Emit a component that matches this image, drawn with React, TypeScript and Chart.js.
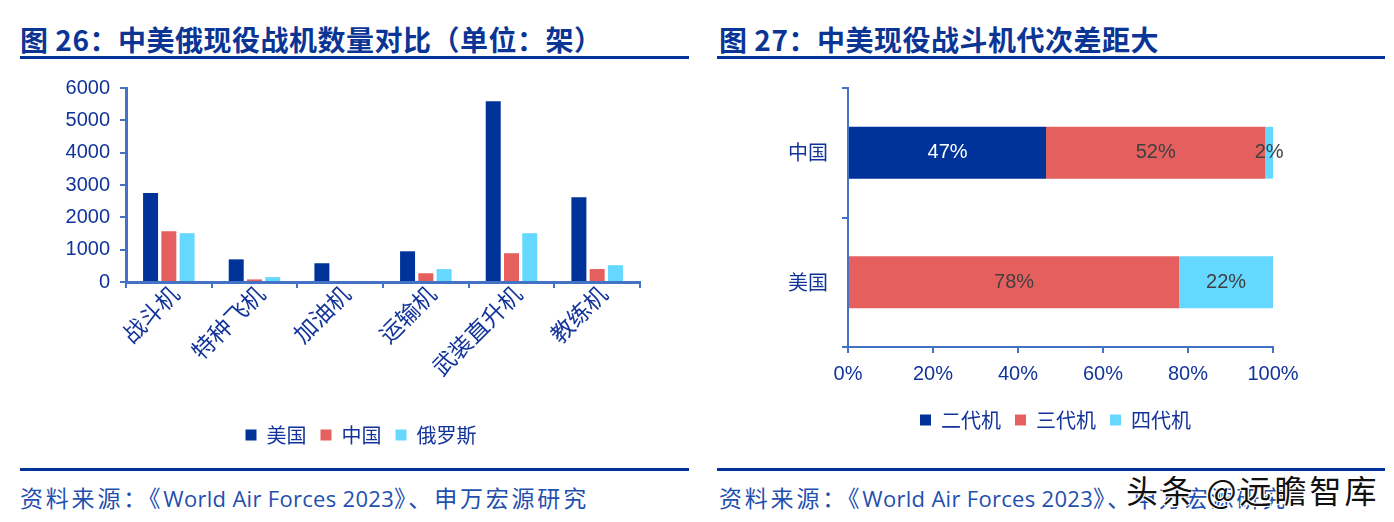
import React, { useEffect, useRef } from "react";
import { Chart, registerables } from "chart.js";

Chart.register(...registerables);

// ---------- Data ----------
const categories = ["战斗机", "特种飞机", "加油机", "运输机", "武装直升机", "教练机"];
const leftSeriesNames = ["美国", "中国", "俄罗斯"];
const usValues = [2750, 700, 580, 950, 5590, 2620];
const cnValues = [1570, 80, 0, 270, 890, 400];
const ruValues = [1510, 150, 0, 400, 1510, 520];
const leftTickStep = 1000;
const leftMax = 6000;

const countries = ["中国", "美国"];
const genSeriesNames = ["二代机", "三代机", "四代机"];
const gen2Values = [46.6, 0];
const gen3Values = [51.6, 77.9];
const gen4Values = [1.8, 22.1];
const pctTickStep = 20;

const titleLeft = "图 26：中美俄现役战机数量对比（单位：架）";
const titleRight = "图 27：中美现役战斗机代次差距大";
const sourcePre = "资料来源：《";
const sourceLatin = "World Air Forces 2023";
const sourcePost = "》、申万宏源研究";
const watermark = "头条 @远瞻智库";

// ---------- Styles ----------
const NAVY = "#003399";
const RED = "#E55F5F";
const CYAN = "#64D8FF";
const AXIS = "#4472C4";
const TEXT = "#12339A";
const LATIN = "'Liberation Sans', 'Noto Sans CJK SC', sans-serif";
const CJK = "'Noto Sans CJK SC', sans-serif";
const SRC_FONT = "'Open Sans', 'Noto Sans CJK SC', sans-serif";

const pctLabelPlugin = {
  id: "pctLabels",
  afterDatasetsDraw(chart: any) {
    const ctx = chart.ctx;
    ctx.save();
    ctx.font = `20px ${LATIN}`;
    ctx.textAlign = "center";
    ctx.textBaseline = "middle";
    chart.data.datasets.forEach((ds: any, di: number) => {
      const meta = chart.getDatasetMeta(di);
      meta.data.forEach((el: any, i: number) => {
        const v = ds.data[i];
        if (!v) return;
        const cx = (el.x + el.base) / 2;
        ctx.fillStyle = di === 0 ? "#FFFFFF" : "#404040";
        ctx.fillText(Math.round(v) + "%", cx, el.y);
      });
    });
    ctx.restore();
  },
};

const shiftLegend = (dx: number) => ({
  id: "shiftLegend",
  afterLayout(chart: any) {
    const l = chart.legend;
    if (l) {
      l.left += dx;
      l.right += dx;
    }
  },
});

const axisGrid = {
  display: true,
  drawOnChartArea: false,
  drawTicks: true,
  tickLength: 6,
  color: AXIS,
  lineWidth: 2,
};

const legendCfg = {
  position: "bottom" as const,
  labels: {
    boxWidth: 11,
    boxHeight: 11,
    color: TEXT,
    font: { size: 20, family: CJK },
    padding: 14,
  },
};

function LeftChart() {
  const ref = useRef<HTMLCanvasElement>(null);
  useEffect(() => {
    if (!ref.current) return;
    const colors = [NAVY, RED, CYAN];
    const vals = [usValues, cnValues, ruValues];
    const chart = new Chart(ref.current, {
      type: "bar",
      data: {
        labels: categories,
        datasets: leftSeriesNames.map((n, i) => ({
          label: n,
          data: vals[i],
          backgroundColor: colors[i],
          categoryPercentage: 0.64,
          barPercentage: 0.82,
        })),
      },
      options: {
        animation: false,
        responsive: false,
        maintainAspectRatio: false,
        layout: { padding: { top: 18, right: 10, left: 0, bottom: 0 } },
        plugins: {
          legend: legendCfg,
          tooltip: { enabled: false },
        },
        scales: {
          x: {
            grid: axisGrid,
            border: { color: AXIS, width: 3 },
            ticks: {
              minRotation: 45,
              maxRotation: 45,
              color: TEXT,
              font: { size: 23, family: CJK },
              padding: -8,
              labelOffset: 6,
            },
            afterFit(scale: any) {
              scale.height = 129;
              scale.paddingLeft = 0;
              scale.paddingRight = 0;
            },
          },
          y: {
            min: 0,
            max: leftMax,
            grid: axisGrid,
            border: { color: AXIS, width: 3 },
            ticks: {
              stepSize: leftTickStep,
              color: TEXT,
              font: { size: 20, family: LATIN },
              padding: 10,
              callback: (v: any) => String(v),
            },
            afterFit(scale: any) {
              scale.width = 106;
              scale.paddingTop = 0;
              scale.paddingBottom = 0;
            },
          },
        },
      },
      plugins: [shiftLegend(31)],
    });
    return () => chart.destroy();
  }, []);
  return <canvas ref={ref} width={630} height={385} />;
}

function RightChart() {
  const ref = useRef<HTMLCanvasElement>(null);
  useEffect(() => {
    if (!ref.current) return;
    const colors = [NAVY, RED, CYAN];
    const vals = [gen2Values, gen3Values, gen4Values];
    const chart = new Chart(ref.current, {
      type: "bar",
      data: {
        labels: countries,
        datasets: genSeriesNames.map((n, i) => ({
          label: n,
          data: vals[i],
          backgroundColor: colors[i],
          categoryPercentage: 0.4,
          barPercentage: 1.0,
        })),
      },
      options: {
        indexAxis: "y",
        animation: false,
        responsive: false,
        maintainAspectRatio: false,
        layout: { padding: { top: 18, right: 111, left: 0, bottom: 0 } },
        plugins: {
          legend: legendCfg,
          tooltip: { enabled: false },
        },
        scales: {
          x: {
            stacked: true,
            min: 0,
            max: 100,
            grid: axisGrid,
            border: { color: AXIS, width: 2 },
            ticks: {
              stepSize: pctTickStep,
              color: TEXT,
              font: { size: 20, family: LATIN },
              padding: 9,
              callback: (v: any) => v + "%",
            },
            afterFit(scale: any) {
              scale.height = 49;
              scale.paddingLeft = 0;
              scale.paddingRight = 0;
            },
          },
          y: {
            stacked: true,
            grid: axisGrid,
            border: { color: AXIS, width: 2 },
            ticks: {
              color: TEXT,
              font: { size: 20, family: CJK },
              padding: 14,
            },
            afterFit(scale: any) {
              scale.width = 134;
              scale.paddingTop = 0;
              scale.paddingBottom = 0;
            },
          },
        },
      },
      plugins: [pctLabelPlugin, shiftLegend(62)],
    });
    return () => chart.destroy();
  }, []);
  return <canvas ref={ref} width={670} height={370} />;
}

const abs = (l: number, t: number, extra: any = {}) => ({
  position: "absolute" as const,
  left: l,
  top: t,
  ...extra,
});

function Source({ left }: { left: number }) {
  const cjk = { fontFamily: CJK, fontSize: 23, letterSpacing: "2.8px" };
  const latin = { fontFamily: SRC_FONT, fontSize: 22, letterSpacing: "0.3px" };
  return (
    <div
      style={abs(left, 483, {
        color: "#1F4FAF",
        lineHeight: "28px",
        whiteSpace: "nowrap",
      })}
    >
      <span style={cjk}>{sourcePre}</span>
      <span style={latin}>{sourceLatin}</span>
      <span style={cjk}>{sourcePost}</span>
    </div>
  );
}

export default function App() {
  const titleStyle = {
    color: "#0A3595",
    fontFamily: CJK,
    fontWeight: 700,
    fontSize: 28,
    lineHeight: "32px",
    letterSpacing: "0.5px",
    whiteSpace: "nowrap" as const,
  };
  return (
    <div
      style={{
        position: "absolute",
        left: 0,
        top: 0,
        width: 1394,
        height: 522,
        background: "#FFFFFF",
        overflow: "hidden",
      }}
    >
      <div style={abs(20, 23, titleStyle)}>{titleLeft}</div>
      <div style={abs(719, 23, titleStyle)}>{titleRight}</div>
      <div style={abs(20, 56, { width: 669, height: 3, background: "#003399" })} />
      <div style={abs(717, 56, { width: 668, height: 3, background: "#003399" })} />

      <div style={abs(20, 70)}>
        <LeftChart />
      </div>
      <div style={abs(714, 70)}>
        <RightChart />
      </div>

      <div style={abs(20, 468, { width: 669, height: 3, background: "#003399" })} />
      <div style={abs(717, 468, { width: 668, height: 3, background: "#003399" })} />
      <Source left={20} />
      <Source left={719} />
      <div
        style={abs(1126, 470, {
          color: "#111111",
          fontFamily: CJK,
          fontSize: 32,
          lineHeight: "38px",
          letterSpacing: "3px",
          whiteSpace: "nowrap",
          textShadow:
            "1px 1px 0 #fff, -1px -1px 0 #fff, 1px -1px 0 #fff, -1px 1px 0 #fff",
        })}
      >
        {watermark}
      </div>
    </div>
  );
}
